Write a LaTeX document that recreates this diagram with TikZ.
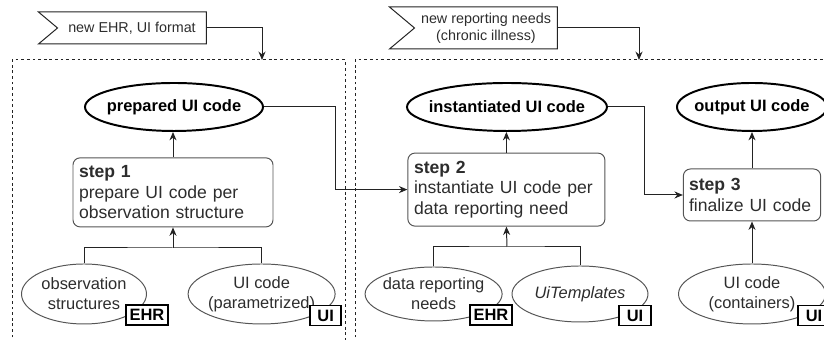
\documentclass[tikz,border=0pt]{standalone}
\usepackage{fontspec}
\setmainfont{Liberation Sans}
\usetikzlibrary{arrows.meta,shapes.geometric,shapes.symbols,calc}
\definecolor{lineGray}{RGB}{35,35,35}
\definecolor{edgeGray}{RGB}{85,85,85}
\definecolor{textGray}{RGB}{45,45,45}

\begin{document}
\begin{tikzpicture}[
    >={Stealth[length=6pt,width=5pt]},
    link/.style={draw=lineGray,line width=0.7pt},
    flag/.style={draw=lineGray,line width=0.7pt,signal,signal from=west,
      signal to=nowhere,signal pointer angle=80,inner sep=2pt,
      minimum width=4.2cm,align=center,
      text=textGray,font=\fontsize{10.2}{12}\selectfont},
    stepbox/.style={draw=edgeGray,line width=0.7pt,rounded corners=5pt,
      inner xsep=4pt,align=left,text=textGray,
      font=\fontsize{12.5}{14.6}\selectfont},
    outcome/.style={draw=black,line width=1.4pt,ellipse,inner xsep=-6pt,
      inner ysep=0pt,minimum height=1.2cm,font=\fontsize{11.7}{14}\selectfont\bfseries},
    source/.style={draw=edgeGray,line width=0.7pt,ellipse,inner xsep=-4pt,
      inner ysep=0pt,minimum height=1.5cm,align=center,text=textGray,
      font=\fontsize{11.7}{14.2}\selectfont},
    tag/.style={draw=black,line width=0.9pt,fill=white,inner sep=0pt,
      minimum height=0.5cm,font=\fontsize{11.7}{14}\selectfont\bfseries}
  ]
  \clip (0,0) rectangle (20.6,8.5);

  % dashed stages
  \draw[link,dash pattern=on 2pt off 2pt] (0.3,-0.5) rectangle (8.625,7.0);
  \draw[link,dash pattern=on 2pt off 2pt] (8.875,-0.5) rectangle (21.0,7.0);

  % incoming changes
  \node[flag,minimum height=0.8cm] (newehr) at (3.3,7.8) {new EHR, UI format};
  \node[flag,minimum height=1.05cm] (newneeds) at (12.15,7.8)
    {new reporting needs\\(chronic illness)};
  \coordinate (stageA) at (6.55,7.0);
  \coordinate (stageB) at (15.975,7.0);
  \draw[link,->] (newehr.east) -| (stageA);
  \draw[link,->] (newneeds.east) -| (stageB);

  % outputs of each step
  \node[outcome,minimum width=4.45cm] (prepared) at (4.35,5.825) {prepared UI code};
  \node[outcome,minimum width=5.0cm] (instantiated) at (12.675,5.825) {instantiated UI code};
  \node[outcome,minimum width=3.75cm] (output) at (18.8,5.825) {output UI code};

  % steps
  \node[stepbox,minimum width=5.0cm,minimum height=1.725cm,text width=4.7cm]
    (step1) at (4.325,3.69)
    {\textbf{step 1}\\prepare UI code per\\observation structure};
  \node[stepbox,minimum width=4.925cm,minimum height=1.825cm,text width=4.62cm]
    (step2) at (12.66,3.76)
    {\textbf{step 2}\\instantiate UI code per\\data reporting need};
  \node[stepbox,minimum width=3.4cm,minimum height=1.3cm,text width=3.15cm]
    (step3) at (18.8,3.625)
    {\textbf{step 3}\\finalize UI code};

  % inputs
  \node[source,minimum width=3.125cm] (obs) at (2.1,1.15) {observation\\structures};
  \node[source,minimum width=3.675cm] (param) at (6.54,1.15) {UI code\\(parametrized)};
  \node[source,minimum width=3.425cm,minimum height=1.35cm] (needs) at (10.84,1.15)
    {data reporting\\needs};
  \node[source,minimum width=3.4cm,minimum height=1.4cm] (templates) at (14.5,1.15)
    {\textit{UiTemplates}};
  \node[source,minimum width=3.675cm] (containers) at (18.8,1.15) {UI code\\(containers)};

  % origin tags
  \node[tag,minimum width=1.05cm] (tagobs) at (3.675,0.625) {EHR};
  \node[tag,minimum width=0.775cm] (tagparam) at (8.14,0.61) {UI};
  \node[tag,minimum width=1.05cm] (tagneeds) at (12.275,0.625) {EHR};
  \node[tag,minimum width=0.8cm] (tagtemplates) at (15.875,0.61) {UI};
  \node[tag,minimum width=0.8cm] (tagcontainers) at (20.35,0.61) {UI};

  % inputs into steps
  \coordinate (join1) at (4.325,2.3);
  \coordinate (join2) at (12.675,2.325);
  \draw[link] (obs.north) |- (join1) -| (param.north);
  \draw[link,->] (join1) -- (step1.south);
  \draw[link] (needs.north) |- (join2) -| (templates.north);
  \draw[link,->] (join2) -- (step2.south);
  \draw[link,->] (containers.north) -- (step3.south);

  % steps into outputs
  \draw[link,->] (step1.north) -- (step1.north |- prepared.south);
  \draw[link,->] (step2.north) -- (step2.north |- instantiated.south);
  \draw[link,->] (step3.north) -- (step3.north |- output.south);

  % hand over to the next step
  \draw[link,->] (prepared.east) -- ++(1.8,0) |- (step2.west);
  \draw[link,->] (instantiated.east) -- ++(0.925,0) |- (step3.west);
\end{tikzpicture}
\end{document}
